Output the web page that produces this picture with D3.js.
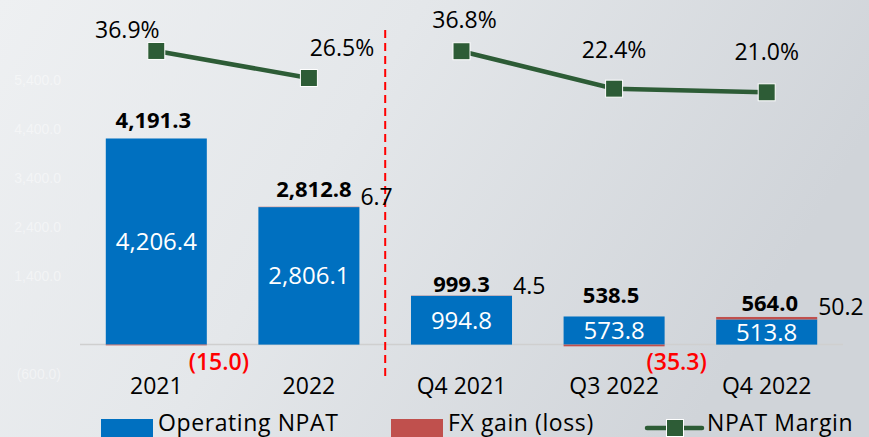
<!DOCTYPE html>
<html>
<head>
<meta charset="utf-8">
<script src="https://cdn.jsdelivr.net/npm/d3@7"></script>
<style>
  html, body { margin: 0; padding: 0; }
  body { width: 869px; height: 437px; overflow: hidden; }
  svg { display: block; font-family: 'Open Sans', sans-serif; }
  .tick-label { fill: #ffffff; fill-opacity: 0.45; font-size: 14px; font-family: 'Liberation Sans', sans-serif; }
  .cat-label { font-size: 23px; fill: #000; }
  .total-label { font-size: 22px; font-weight: 700; fill: #000; }
  .op-label { font-size: 24px; fill: #fff; }
  .fx-label { font-size: 23px; fill: #000; }
  .fx-label.neg { fill: #ff0000; font-weight: 600; }
  .margin-label { font-size: 23px; fill: #000; }
  .legend-text { font-size: 23px; fill: #000; letter-spacing: 0.6px; }
</style>
</head>
<body>
<svg width="869" height="437"></svg>
<script>
// chart values
var categories = ['2021', '2022', 'Q4 2021', 'Q3 2022', 'Q4 2022'];
var operatingNpat = [4206.4, 2806.1, 994.8, 573.8, 513.8];
var fxGain = [-15.0, 6.7, 4.5, -35.3, 50.2];
var totalNpat = [4191.3, 2812.8, 999.3, 538.5, 564.0];
var npatMargin = [36.9, 26.5, 36.8, 22.4, 21.0];
var periodType = ['annual', 'annual', 'quarter', 'quarter', 'quarter'];
var yTickValues = [5400, 4400, 3400, 2400, 1400, -600];

// label nudges (layout only)
var marginNudge = [[-29, -13], [33, -22], [3, -23], [0, -31], [0, -32]];
var totalNudge = [[-3, -10], [5, -10], [0, -4], [-3, -13], [3, -6]];

var svg = d3.select('svg');
var width = +svg.attr('width');
var height = +svg.attr('height');

var colors = { op: '#0070c0', fx: '#c0504d', line: '#2d5c36' };

// background gradient
var defs = svg.append('defs');
var grad = defs.append('linearGradient')
    .attr('id', 'bg')
    .attr('x1', '0%').attr('y1', '0%')
    .attr('x2', '100%').attr('y2', '30%');
grad.append('stop').attr('offset', '0%').attr('stop-color', '#eef0f2');
grad.append('stop').attr('offset', '45%').attr('stop-color', '#e4e7ea');
grad.append('stop').attr('offset', '100%').attr('stop-color', '#d0d4d9');

svg.append('rect')
    .attr('width', width)
    .attr('height', height)
    .attr('fill', 'url(#bg)');

// scales
var xScale = d3.scaleBand()
    .domain(categories)
    .range([80, 843])
    .paddingInner(0.338)
    .paddingOuter(0.169);

var yScale = d3.scaleLinear()
    .domain([-600, 5400])
    .range([374, 80]);

var marginScale = d3.scaleLinear()
    .domain([0, 40])
    .range([146.9, 42.9]);

var barW = xScale.bandwidth();
function cx(i) { return xScale(categories[i]) + barW / 2; }

// faint left axis labels
var fmt = d3.format(',.1f');
svg.append('g')
    .selectAll('text')
    .data(yTickValues)
    .enter()
    .append('text')
    .attr('class', 'tick-label')
    .attr('x', 61)
    .attr('y', function(d) { return yScale(d); })
    .attr('dy', '0.35em')
    .attr('text-anchor', 'end')
    .text(function(d) { return d < 0 ? '(' + fmt(-d) + ')' : fmt(d); });

// baseline
svg.append('line')
    .attr('x1', 80).attr('x2', 843)
    .attr('y1', yScale(0)).attr('y2', yScale(0))
    .attr('stroke', '#cfcfcf')
    .attr('stroke-width', 1.5);

var rows = categories.map(function(c, i) {
    return { cat: c, op: operatingNpat[i], fx: fxGain[i], total: totalNpat[i], margin: npatMargin[i], i: i };
});

// operating bars
svg.append('g')
    .selectAll('rect')
    .data(rows)
    .enter()
    .append('rect')
    .attr('x', function(d) { return xScale(d.cat); })
    .attr('y', function(d) { return yScale(d.op); })
    .attr('width', barW)
    .attr('height', function(d) { return yScale(0) - yScale(d.op); })
    .attr('fill', colors.op);

// fx bars: positive stacks on top, negative hangs below zero
svg.append('g')
    .selectAll('rect')
    .data(rows)
    .enter()
    .append('rect')
    .attr('x', function(d) { return xScale(d.cat); })
    .attr('y', function(d) { return d.fx >= 0 ? yScale(d.op + d.fx) : yScale(0); })
    .attr('width', barW)
    .attr('height', function(d) { return Math.abs(yScale(0) - yScale(d.fx)); })
    .attr('fill', colors.fx);

// separator between annual and quarterly
var sepX = (cx(1) + cx(2)) / 2;
svg.append('line')
    .attr('x1', sepX).attr('x2', sepX)
    .attr('y1', 30).attr('y2', 376)
    .attr('stroke', '#ff0000')
    .attr('stroke-width', 2)
    .attr('stroke-dasharray', '8,5');

function barTop(d) { return yScale(d.op + Math.max(d.fx, 0)); }

// operating labels inside bars
svg.append('g')
    .selectAll('text')
    .data(rows)
    .enter()
    .append('text')
    .attr('class', 'op-label')
    .attr('x', function(d) { return cx(d.i); })
    .attr('y', function(d) { return (yScale(d.op) + yScale(0)) / 2; })
    .attr('dy', '0.36em')
    .attr('text-anchor', 'middle')
    .text(function(d) { return fmt(d.op); });

// total labels
svg.append('g')
    .selectAll('text')
    .data(rows)
    .enter()
    .append('text')
    .attr('class', 'total-label')
    .attr('x', function(d) { return cx(d.i) + totalNudge[d.i][0]; })
    .attr('y', function(d) { return barTop(d) + totalNudge[d.i][1]; })
    .attr('text-anchor', 'middle')
    .text(function(d) { return fmt(d.total); });

// fx labels
svg.append('g')
    .selectAll('text')
    .data(rows)
    .enter()
    .append('text')
    .attr('class', function(d) { return d.fx < 0 ? 'fx-label neg' : 'fx-label'; })
    .attr('x', function(d) {
        var right = xScale(d.cat) + barW;
        return d.fx < 0 ? right + 12 : right + 1;
    })
    .attr('y', function(d) { return d.fx < 0 ? yScale(0) + 25 : barTop(d) - 2; })
    .attr('text-anchor', function(d) { return d.fx < 0 ? 'middle' : 'start'; })
    .text(function(d) { return d.fx < 0 ? '(' + fmt(-d.fx) + ')' : fmt(d.fx); });

// category labels
svg.append('g')
    .selectAll('text')
    .data(categories)
    .enter()
    .append('text')
    .attr('class', 'cat-label')
    .attr('x', function(d, i) { return cx(i); })
    .attr('y', 394)
    .attr('text-anchor', 'middle')
    .text(function(d) { return d; });

// margin line, split by period type
var line = d3.line()
    .x(function(d) { return cx(d.i); })
    .y(function(d) { return marginScale(d.margin); });

['annual', 'quarter'].forEach(function(p) {
    var seg = rows.filter(function(d) { return periodType[d.i] === p; });
    svg.append('path')
        .datum(seg)
        .attr('d', line)
        .attr('fill', 'none')
        .attr('stroke', colors.line)
        .attr('stroke-width', 4.5);
});

svg.append('g')
    .selectAll('rect')
    .data(rows)
    .enter()
    .append('rect')
    .attr('x', function(d) { return cx(d.i) - 8.5; })
    .attr('y', function(d) { return marginScale(d.margin) - 8.5; })
    .attr('width', 17)
    .attr('height', 17)
    .attr('fill', colors.line)
    .attr('stroke', '#ffffff')
    .attr('stroke-width', 1);

svg.append('g')
    .selectAll('text')
    .data(rows)
    .enter()
    .append('text')
    .attr('class', 'margin-label')
    .attr('x', function(d) { return cx(d.i) + marginNudge[d.i][0]; })
    .attr('y', function(d) { return marginScale(d.margin) + marginNudge[d.i][1]; })
    .attr('text-anchor', 'middle')
    .text(function(d) { return d.margin.toFixed(1) + '%'; });

// legend
var legend = svg.append('g');
legend.append('rect')
    .attr('x', 101).attr('y', 419).attr('width', 52).attr('height', 20)
    .attr('fill', colors.op);
legend.append('text')
    .attr('class', 'legend-text')
    .attr('x', 158).attr('y', 431)
    .text('Operating NPAT');

legend.append('rect')
    .attr('x', 391).attr('y', 419).attr('width', 52).attr('height', 20)
    .attr('fill', colors.fx);
legend.append('text')
    .attr('class', 'legend-text')
    .attr('x', 448).attr('y', 431)
    .text('FX gain (loss)');

legend.append('line')
    .attr('x1', 647).attr('x2', 702)
    .attr('y1', 428).attr('y2', 428)
    .attr('stroke', colors.line)
    .attr('stroke-width', 4.5)
    .attr('stroke-linecap', 'round');
legend.append('rect')
    .attr('x', 666.5).attr('y', 419.5).attr('width', 17).attr('height', 17)
    .attr('fill', colors.line)
    .attr('stroke', '#ffffff')
    .attr('stroke-width', 1);
legend.append('text')
    .attr('class', 'legend-text')
    .attr('x', 707).attr('y', 431)
    .text('NPAT Margin');
</script>
</body>
</html>
